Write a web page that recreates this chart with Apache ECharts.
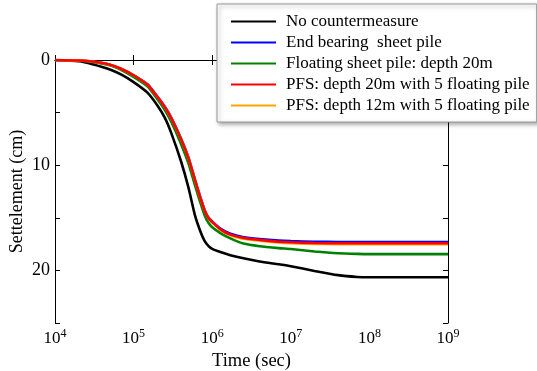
<!DOCTYPE html>
<html>
<head>
<meta charset="utf-8">
<script src="https://cdn.jsdelivr.net/npm/echarts@6/dist/echarts.min.js"></script>
<style>html,body{margin:0;padding:0;background:#fff;}#c{width:537px;height:371px;}</style>
</head>
<body>
<div id="c"></div>
<script>
var times = [1e4, 2e4, 3e4, 5e4, 7e4, 1e5, 1.5e5, 2e5, 2.5e5, 3e5, 4e5, 5e5, 6e5, 7e5, 8e5, 9e5, 1e6, 1.3e6, 1.7e6, 2.5e6, 4e6, 7e6, 1e7, 2e7, 4e7, 7e7, 1e8, 3e8, 1e9];
var noCounter = [0, 0.12, 0.4, 0.9, 1.4, 2.1, 3.1, 4.3, 5.5, 6.9, 9.6, 12.15, 14.7, 16.2, 17.2, 17.7, 17.95, 18.28, 18.55, 18.85, 19.15, 19.42, 19.6, 20.05, 20.45, 20.62, 20.65, 20.65, 20.65];
var endBearing = [0, 0.05, 0.15, 0.45, 0.85, 1.45, 2.3, 3.45, 4.45, 5.45, 7.45, 9.3, 11.3, 12.95, 14.25, 15.0, 15.35, 16.08, 16.52, 16.84, 17.02, 17.17, 17.22, 17.27, 17.3, 17.3, 17.3, 17.3, 17.3];
var floatingSheet = [0, 0.05, 0.18, 0.5, 0.95, 1.6, 2.5, 3.7, 4.75, 5.85, 7.95, 9.85, 11.85, 13.45, 14.75, 15.5, 15.9, 16.5, 16.95, 17.45, 17.7, 17.88, 17.97, 18.2, 18.37, 18.43, 18.45, 18.45, 18.45];
var pfs20 = [0, 0.05, 0.15, 0.45, 0.85, 1.45, 2.35, 3.5, 4.5, 5.5, 7.5, 9.35, 11.35, 13.0, 14.3, 15.05, 15.4, 16.15, 16.6, 16.92, 17.1, 17.27, 17.33, 17.4, 17.42, 17.42, 17.42, 17.42, 17.42];
var pfs12 = [0, 0.05, 0.15, 0.45, 0.85, 1.45, 2.35, 3.5, 4.5, 5.5, 7.5, 9.35, 11.35, 13.0, 14.3, 15.05, 15.42, 16.2, 16.65, 16.98, 17.17, 17.35, 17.42, 17.48, 17.5, 17.5, 17.5, 17.5, 17.5];
var seriesNames = ['No countermeasure', 'End bearing  sheet pile', 'Floating sheet pile: depth 20m', 'PFS: depth 20m with 5 floating pile', 'PFS: depth 12m with 5 floating pile'];
var seriesColors = ['#000000', '#0000ff', '#008000', '#ff0000', '#ffa500'];
var yTicks = [0, 10, 20];

function pairs(vals) { return times.map(function (t, i) { return [t, vals[i]]; }); }
var allVals = [noCounter, endBearing, floatingSheet, pfs20, pfs12];
var zs = [2, 2, 2, 4, 3];
var FONT = '"Liberation Serif", "Times New Roman", serif';

var series = allVals.map(function (v, i) {
  return {
    name: seriesNames[i], type: 'line', data: pairs(v), showSymbol: false, symbol: 'none',
    smooth: 0.2, z: zs[i],
    lineStyle: { color: seriesColors[i], width: 2.6 }, itemStyle: { color: seriesColors[i] }
  };
});

var xCommon = {
  type: 'log', logBase: 10, min: 1e4, max: 1e9,
  axisLine: { show: true, lineStyle: { color: '#000', width: 1 } },
  axisTick: { show: true, inside: true, length: 5, lineStyle: { color: '#000' } },
  minorTick: { show: false }, splitLine: { show: false }
};
var yCommon = {
  type: 'value', min: 0, max: 25, interval: 5, inverse: true,
  axisLine: { show: true, lineStyle: { color: '#000', width: 1 } },
  axisTick: { show: true, inside: true, length: 5, lineStyle: { color: '#000' } },
  splitLine: { show: false }
};

var chart = echarts.init(document.getElementById('c'), null, { renderer: 'canvas' });
chart.setOption({
  animation: false,
  backgroundColor: '#fff',
  grid: { left: 55, right: 89, top: 60, bottom: 48, containLabel: false, outerBoundsMode: 'none' },
  legend: {
    data: seriesNames, orient: 'vertical', left: 217, top: 4,
    icon: 'rect', itemWidth: 45, itemHeight: 2, itemGap: 4,
    padding: [9, 7, 8, 14],
    backgroundColor: '#fff', borderColor: '#999', borderWidth: 1,
    shadowColor: 'rgba(0,0,0,0.35)', shadowBlur: 4, shadowOffsetX: 2, shadowOffsetY: 2,
    textStyle: { fontFamily: FONT, fontSize: 17, color: '#000', lineHeight: 16, padding: [0, 0, 0, 5] },
    z: 10
  },
  xAxis: [
    Object.assign({}, xCommon, {
      position: 'bottom',
      name: 'Time (sec)', nameLocation: 'middle', nameGap: 26,
      nameTextStyle: { fontFamily: FONT, fontSize: 18.5, color: '#000' },
      axisLabel: {
        margin: 5, color: '#000',
        formatter: function (v) { return '{b|10}{s|' + Math.round(Math.log10(v)) + '}'; },
        rich: {
          b: { fontFamily: FONT, fontSize: 17, color: '#000' },
          s: { fontFamily: FONT, fontSize: 12, color: '#000', padding: [0, 0, 9, 0] }
        }
      }
    }),
    Object.assign({}, xCommon, { position: 'top', axisLabel: { show: false } })
  ],
  yAxis: [
    Object.assign({}, yCommon, {
      position: 'left',
      name: 'Settelement (cm)', nameLocation: 'middle', nameGap: 29, nameMoveOverlap: false,
      nameTextStyle: { fontFamily: FONT, fontSize: 18, color: '#000' },
      axisLabel: {
        margin: 5, color: '#000', fontFamily: FONT, fontSize: 18,
        formatter: function (v) { return yTicks.indexOf(v) >= 0 ? String(v) : ''; }
      }
    }),
    Object.assign({}, yCommon, { position: 'right', axisLabel: { show: false } })
  ],
  series: series
});
</script>
</body>
</html>
